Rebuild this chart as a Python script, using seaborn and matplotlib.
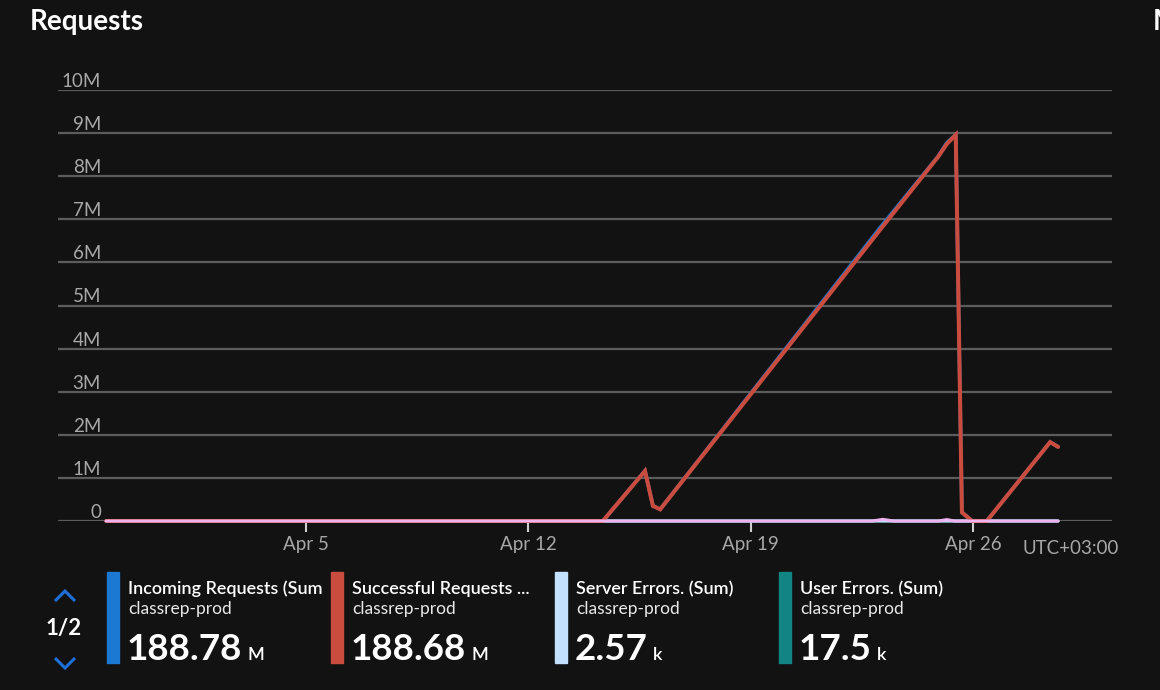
import matplotlib
matplotlib.use("Agg")
import matplotlib.pyplot as plt
from matplotlib.patches import Rectangle
from matplotlib.lines import Line2D
from matplotlib.transforms import Bbox, TransformedBbox
import seaborn as sns
import pandas as pd

# ---------------- data ----------------
title = "Requests"
next_title = "M"
y_ticks = [0, 1e6, 2e6, 3e6, 4e6, 5e6, 6e6, 7e6, 8e6, 9e6, 10e6]
y_tick_labels = ["0", "1M", "2M", "3M", "4M", "5M", "6M", "7M", "8M", "9M", "10M"]
x_ticks = ["2020-04-05", "2020-04-12", "2020-04-19", "2020-04-26"]
x_tick_labels = ["Apr 5", "Apr 12", "Apr 19", "Apr 26"]
x_range = ["2020-03-28 04:35", "2020-04-30 09:05"]
timezone_label = "UTC+03:00"

request_times = ["2020-03-29 17:00", "2020-04-14 08:20", "2020-04-15 16:10",
                 "2020-04-15 22:10", "2020-04-16 03:40", "2020-04-23 01:40",
                 "2020-04-24 21:40", "2020-04-25 04:20", "2020-04-25 11:00",
                 "2020-04-25 15:40", "2020-04-25 23:20", "2020-04-26 10:30",
                 "2020-04-28 10:20", "2020-04-28 16:20"]
incoming_values = [0, 0, 1.165e6, 0.352e6, 0.272e6, 6.80e6, 8.46e6, 8.78e6,
                   8.965e6, 0.203e6, 1e3, 1e3, 1.832e6, 1.722e6]
successful_values = [0, 0, 1.16e6, 0.35e6, 0.27e6, 6.75e6, 8.45e6, 8.75e6,
                     8.96e6, 0.20e6, 0, 0, 1.83e6, 1.72e6]

error_times = ["2020-03-29 17:00", "2020-04-22 20:00", "2020-04-23 04:00",
               "2020-04-23 12:00", "2020-04-24 22:00", "2020-04-25 04:20",
               "2020-04-25 10:00", "2020-04-28 16:20"]
server_error_values = [0, 0, 300, 0, 0, 250, 0, 0]
user_error_values = [0, 0, 2500, 0, 0, 2000, 0, 0]
other_values = [0, 0, 38e3, 0, 0, 33e3, 0, 0]

legend_names = ["Incoming Requests (Sum)", "Successful Requests ...",
                "Server Errors. (Sum)", "User Errors. (Sum)"]
legend_resource = "classrep-prod"
legend_totals = ["188.78", "188.68", "2.57", "17.5"]
legend_units = ["M", "M", "k", "k"]
page_label = "1/2"

# ---------------- style ----------------
BG = "#121212"
C_IN = "#1b78d3"
C_OK = "#c94c3e"
C_SRV = "#c3e1ff"
C_USR = "#138484"
C_OTHER = "#efb3ef"
legend_colors = [C_IN, C_OK, C_SRV, C_USR]
GRID = "#5c5c5c"
LABEL = "#a8a8a8"

sns.set_theme(style="dark")
plt.rcParams["font.family"] = ["Lato", "DejaVu Sans"]

W, H = 1160, 690
fig = plt.figure(figsize=(W / 100, H / 100), dpi=100, facecolor=BG)


def fx(px):
    return px / W


def fy(py):
    return 1 - py / H


ax = fig.add_axes([fx(58), fy(521), (1112 - 58) / W, (521 - 90) / H])
ax.set_facecolor(BG)

t_req = pd.to_datetime(request_times)
t_err = pd.to_datetime(error_times)

series = [
    (t_req, incoming_values, C_IN, 2.6, 2),
    (t_err, user_error_values, C_USR, 2.2, 3),
    (t_err, server_error_values, C_SRV, 2.2, 4),
    (t_req, successful_values, C_OK, 2.9, 5),
    (t_err, other_values, C_OTHER, 2.2, 6),
]
for t, v, c, lw, z in series:
    df = pd.DataFrame({"time": t, "value": v})
    sns.lineplot(data=df, x="time", y="value", ax=ax, color=c, lw=lw,
                 estimator=None, sort=False, zorder=z, clip_on=False,
                 solid_joinstyle="miter")

ax.set_xlim(pd.Timestamp(x_range[0]), pd.Timestamp(x_range[1]))
ax.set_ylim(0, 10e6)
ax.set_xlabel("")
ax.set_ylabel("")
for s in ax.spines.values():
    s.set_visible(False)

ax.set_yticks(y_ticks)
ax.set_yticklabels(y_tick_labels, va="bottom")
ax.tick_params(axis="y", length=0, pad=-31, labelcolor=LABEL, labelsize=13.5)
ax.set_xticks(pd.to_datetime(x_ticks))
ax.set_xticklabels(x_tick_labels)
ax.tick_params(axis="x", length=8, width=1.5, color="#cfcfcf", direction="out",
               pad=3, labelcolor=LABEL, labelsize=13.5, bottom=True)
ax.grid(False)
ax.grid(axis="y", color=GRID, lw=1.6)
ax.set_axisbelow(True)

fig.text(fx(1023), fy(548), timezone_label, color=LABEL, fontsize=13.5,
         ha="left", va="center")

# titles
fig.text(fx(30), fy(30), title, color="white", fontsize=20, fontweight="bold",
         ha="left", va="baseline")
fig.text(fx(1153), fy(30), next_title, color="white", fontsize=20,
         fontweight="bold", ha="left", va="baseline")

# pager
for pts in ([(55, 601), (65, 591), (75, 601)], [(55, 658), (65, 668), (75, 658)]):
    fig.add_artist(Line2D([fx(p[0]) for p in pts], [fy(p[1]) for p in pts],
                          transform=fig.transFigure, color="#1f6fd6", lw=2.2,
                          solid_joinstyle="miter", solid_capstyle="butt"))
fig.text(fx(64), fy(628), page_label, color="white", fontsize=16,
         fontweight="bold", ha="center", va="center")

# legend items
bar_x = [107, 331, 555, 779]
number_texts = []
for i in range(4):
    x0 = bar_x[i]
    fig.add_artist(Rectangle((fx(x0), fy(663)), 12 / W, (663 - 572) / H,
                             transform=fig.transFigure, color=legend_colors[i],
                             zorder=5))
    t = fig.text(fx(x0 + 21), fy(594), legend_names[i], color="white",
                 fontsize=13, fontweight="semibold", ha="left", va="baseline")
    clip = TransformedBbox(Bbox([[fx(x0 + 18), 0], [fx(x0 + 215), 1]]),
                           fig.transFigure)
    t.set_clip_box(clip)
    t.set_clip_on(True)
    fig.text(fx(x0 + 21), fy(614), legend_resource, color="#e8e8e8",
             fontsize=12.5, ha="left", va="baseline")
    n = fig.text(fx(x0 + 20), fy(660), legend_totals[i], color="white",
                 fontsize=26.5, fontweight="bold", ha="left", va="baseline")
    number_texts.append(n)

fig.canvas.draw()
renderer = fig.canvas.get_renderer()
for i, n in enumerate(number_texts):
    bb = n.get_window_extent(renderer)
    fig.text(bb.x1 / W + 5 / W, fy(660), legend_units[i], color="white",
             fontsize=13, fontweight="semibold", ha="left", va="baseline")

fig.savefig("out.png", dpi=100, facecolor=BG)
